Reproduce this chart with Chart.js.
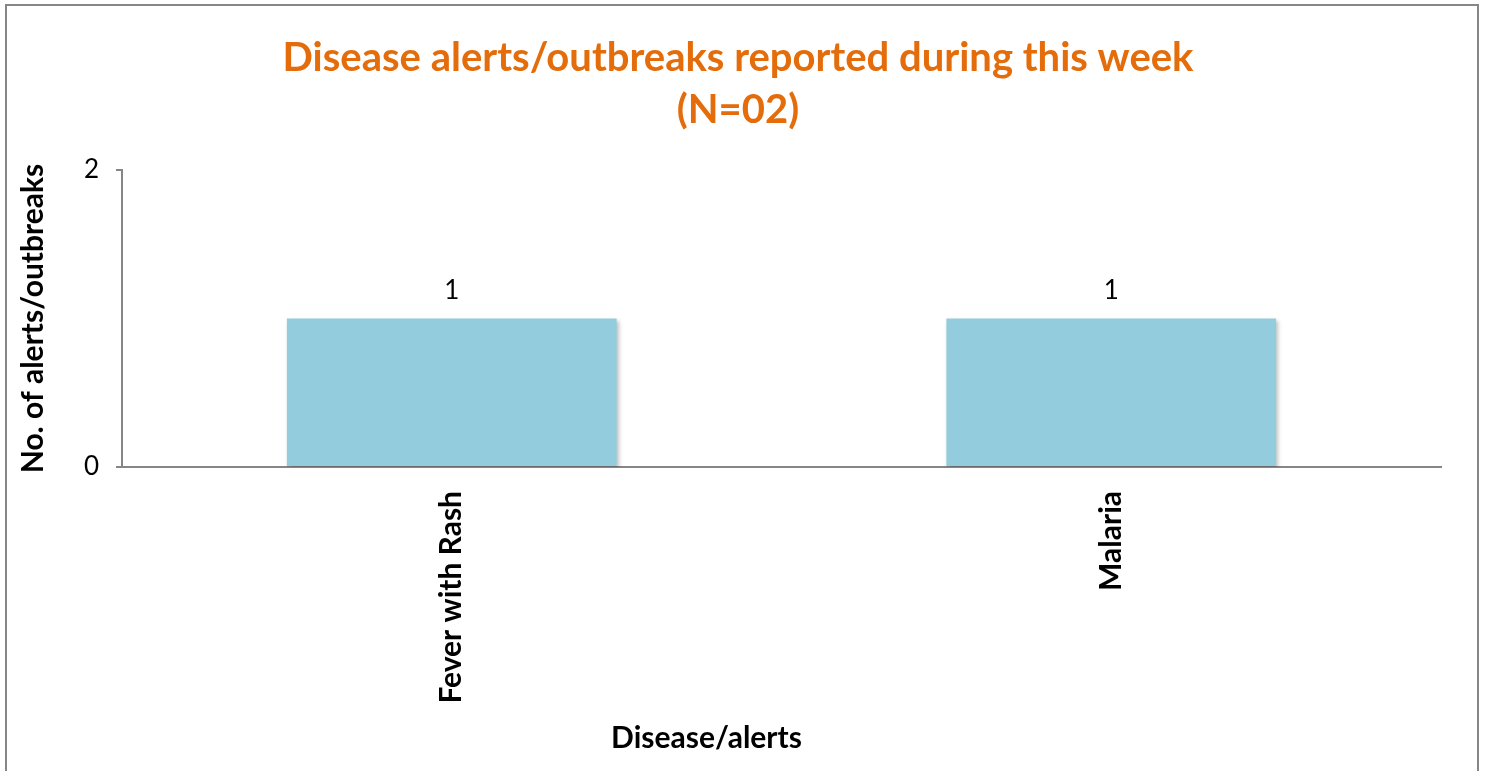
<!DOCTYPE html>
<html lang="en">
<head>
    <meta charset="UTF-8">
    <title>Disease alerts/outbreaks</title>
    <script src="https://cdn.jsdelivr.net/npm/chart.js"></script>
    <style>
        html, body {
            margin: 0;
            padding: 0;
            background: #ffffff;
            overflow: hidden;
        }

        .frame {
            position: absolute;
            left: 5px;
            top: 4px;
            width: 1470px;
            height: 820px;
            border: 2px solid #868686;
            pointer-events: none;
        }

        .chart-box {
            position: absolute;
            left: 0;
            top: 0;
            width: 1485px;
            height: 771px;
        }
    </style>
</head>
<body>
    <div class="chart-box">
        <canvas id="alerts-chart" width="1485" height="771"></canvas>
    </div>
    <div class="frame"></div>

    <script>
        // chart data
        const diseases = ['Fever with Rash', 'Malaria'];
        const alertCounts = [1, 1];
        const yTicks = [0, 2];

        const titleLines = ['Disease alerts/outbreaks reported during this week', '(N=02)'];
        const yTitle = 'No. of alerts/outbreaks';
        const xTitle = 'Disease/alerts';

        const fontFamily = 'Lato, "Open Sans", sans-serif';

        // value labels above the bars, plus a soft shadow on bars
        const barExtras = {
            id: 'barExtras',
            beforeDatasetsDraw(chart) {
                const ctx = chart.ctx;
                ctx.save();
                ctx.shadowColor = 'rgba(0, 0, 0, 0.25)';
                ctx.shadowBlur = 4;
                ctx.shadowOffsetX = 2;
                ctx.shadowOffsetY = 2;
            },
            afterDatasetsDraw(chart) {
                const ctx = chart.ctx;
                ctx.restore();
                const meta = chart.getDatasetMeta(0);
                ctx.save();
                ctx.fillStyle = '#000000';
                ctx.font = '26px ' + fontFamily;
                ctx.textAlign = 'center';
                ctx.textBaseline = 'bottom';
                meta.data.forEach((bar, i) => {
                    ctx.fillText(String(alertCounts[i]), bar.x, bar.y - 15);
                });
                ctx.restore();
            }
        };

        // x axis title (sits left of the plot centre in the original)
        const xTitlePlugin = {
            id: 'xTitlePlugin',
            afterDraw(chart) {
                const ctx = chart.ctx;
                const area = chart.chartArea;
                ctx.save();
                ctx.fillStyle = '#000000';
                ctx.font = 'bold 30px ' + fontFamily;
                ctx.textAlign = 'center';
                ctx.textBaseline = 'middle';
                ctx.fillText(xTitle, (area.left + area.right) / 2 - 75, 738);
                ctx.restore();
            }
        };

        const ctx = document.getElementById('alerts-chart').getContext('2d');
        new Chart(ctx, {
            type: 'bar',
            data: {
                labels: diseases,
                datasets: [{
                    label: 'Alerts',
                    data: alertCounts,
                    backgroundColor: '#93CDDD',
                    borderWidth: 0,
                    barPercentage: 0.5,
                    categoryPercentage: 1.0
                }]
            },
            options: {
                responsive: false,
                animation: false,
                layout: {
                    // left/right padding chosen so the main title centres like the original
                    padding: { top: 0, left: 35, right: 44, bottom: 0 }
                },
                plugins: {
                    legend: { display: false },
                    tooltip: { enabled: false },
                    title: {
                        display: true,
                        text: titleLines,
                        color: '#E46C0A',
                        font: { family: fontFamily, size: 40, weight: 'bold', lineHeight: 1.3 },
                        padding: { top: 32, bottom: 34 }
                    }
                },
                scales: {
                    x: {
                        grid: { display: false },
                        border: { color: '#868686', width: 2 },
                        ticks: {
                            color: '#000000',
                            font: { family: fontFamily, size: 30, weight: 'bold' },
                            minRotation: 90,
                            maxRotation: 90,
                            padding: 16
                        },
                        afterFit(axis) { axis.height = 304; }
                    },
                    y: {
                        min: 0,
                        max: 2,
                        afterBuildTicks(axis) {
                            axis.ticks = yTicks.map(v => ({ value: v }));
                        },
                        grid: {
                            drawOnChartArea: false,
                            color: '#868686',
                            tickLength: 6,
                            lineWidth: 2
                        },
                        border: { color: '#868686', width: 2 },
                        ticks: {
                            color: '#000000',
                            font: { family: fontFamily, size: 26 },
                            padding: 17
                        },
                        title: {
                            display: true,
                            text: yTitle,
                            color: '#000000',
                            font: { family: fontFamily, size: 30, weight: 'bold' },
                            padding: { top: -20, bottom: 0 }
                        },
                        afterFit(axis) { axis.width = 87; }
                    }
                }
            },
            plugins: [barExtras, xTitlePlugin]
        });
    </script>
</body>
</html>
